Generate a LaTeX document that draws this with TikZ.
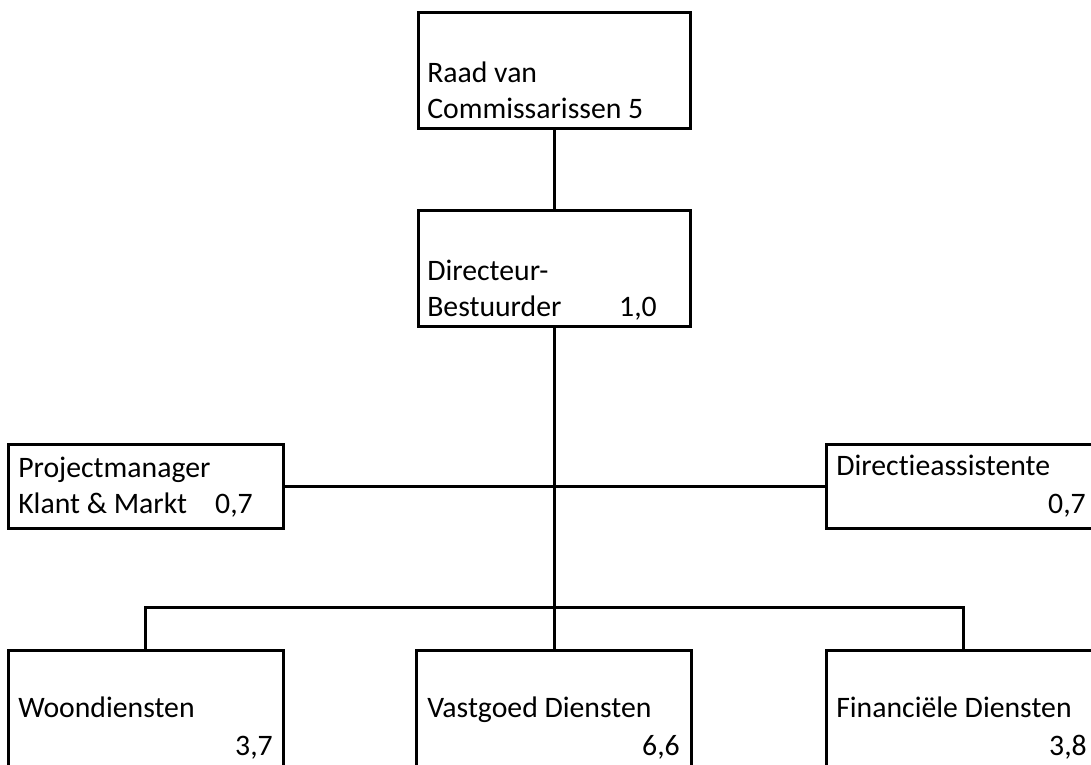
\documentclass[tikz,border=0pt]{standalone}
\usepackage{fontspec}
\setmainfont[Ligatures=NoCommon]{Carlito}
\usepackage{tikz}
\tikzset{
  box/.style={draw, line width=2.25pt, rectangle, inner sep=0pt},
  topbox/.style={box, minimum width=204pt, minimum height=87pt},
  sidebox/.style={box, minimum width=206.25pt, minimum height=63pt},
  deptbox/.style={box, minimum width=206.25pt, minimum height=112pt},
  conn/.style={line width=2.25pt},
  lab/.style={inner sep=0pt, font=\fontsize{22.3}{27}\selectfont, anchor=base west},
  num/.style={lab, anchor=base east}
}

\begin{document}
\begin{tikzpicture}[x=0.75pt, y=-0.75pt]
  \useasboundingbox[fill=white] (0,0) rectangle (1091,764);
  \clip (0,0) rectangle (1091,764);

  % boxes
  \node[topbox] (raad) at (554,70) {};
  \node[topbox] (dir) at (554,268) {};
  \node[sidebox] (pm) at (145.5,486) {};
  \node[sidebox] (da) at (963.5,486) {};
  \node[deptbox] (woon) at (145.5,725.5) {};
  \node[deptbox] (vast) at (554,725.5) {};
  \node[deptbox] (fin) at (963.5,725.5) {};

  % connectors
  \coordinate (bus) at (554,607.5);
  \draw[conn] (raad.south) -- (dir.north);
  \draw[conn] (dir.south) -- (vast.north);
  \draw[conn] (pm.east) -- (da.west);
  \draw[conn] (woon.north) |- (bus) -| (fin.north);

  % labels
  \node[lab] (raad1) at (427,82) {Raad van};
  \node[lab] (raad2) at (427,118) {Commissarissen 5};
  \node[lab] (dir1) at (427,280) {Directeur-};
  \node[lab] (dir2) at (427,316) {Bestuurder};
  \node[num] (dir3) at (657,316) {1,0};
  \node[lab] (pm1) at (18,477) {Projectmanager};
  \node[lab] (pm2) at (18,513) {Klant \& Markt};
  \node[num] (pm3) at (253,513) {0,7};
  \node[lab] (da1) at (836,475) {Directieassistente};
  \node[num] (da2) at (1086,513) {0,7};
  \node[lab] (woon1) at (18,717) {Woondiensten};
  \node[num] (woon2) at (273,755) {3,7};
  \node[lab] (vast1) at (427,717) {Vastgoed Diensten};
  \node[num] (vast2) at (680,755) {6,6};
  \node[lab] (fin1) at (836,717) {Financiële Diensten};
  \node[num] (fin2) at (1087,755) {3,8};
\end{tikzpicture}
\end{document}
